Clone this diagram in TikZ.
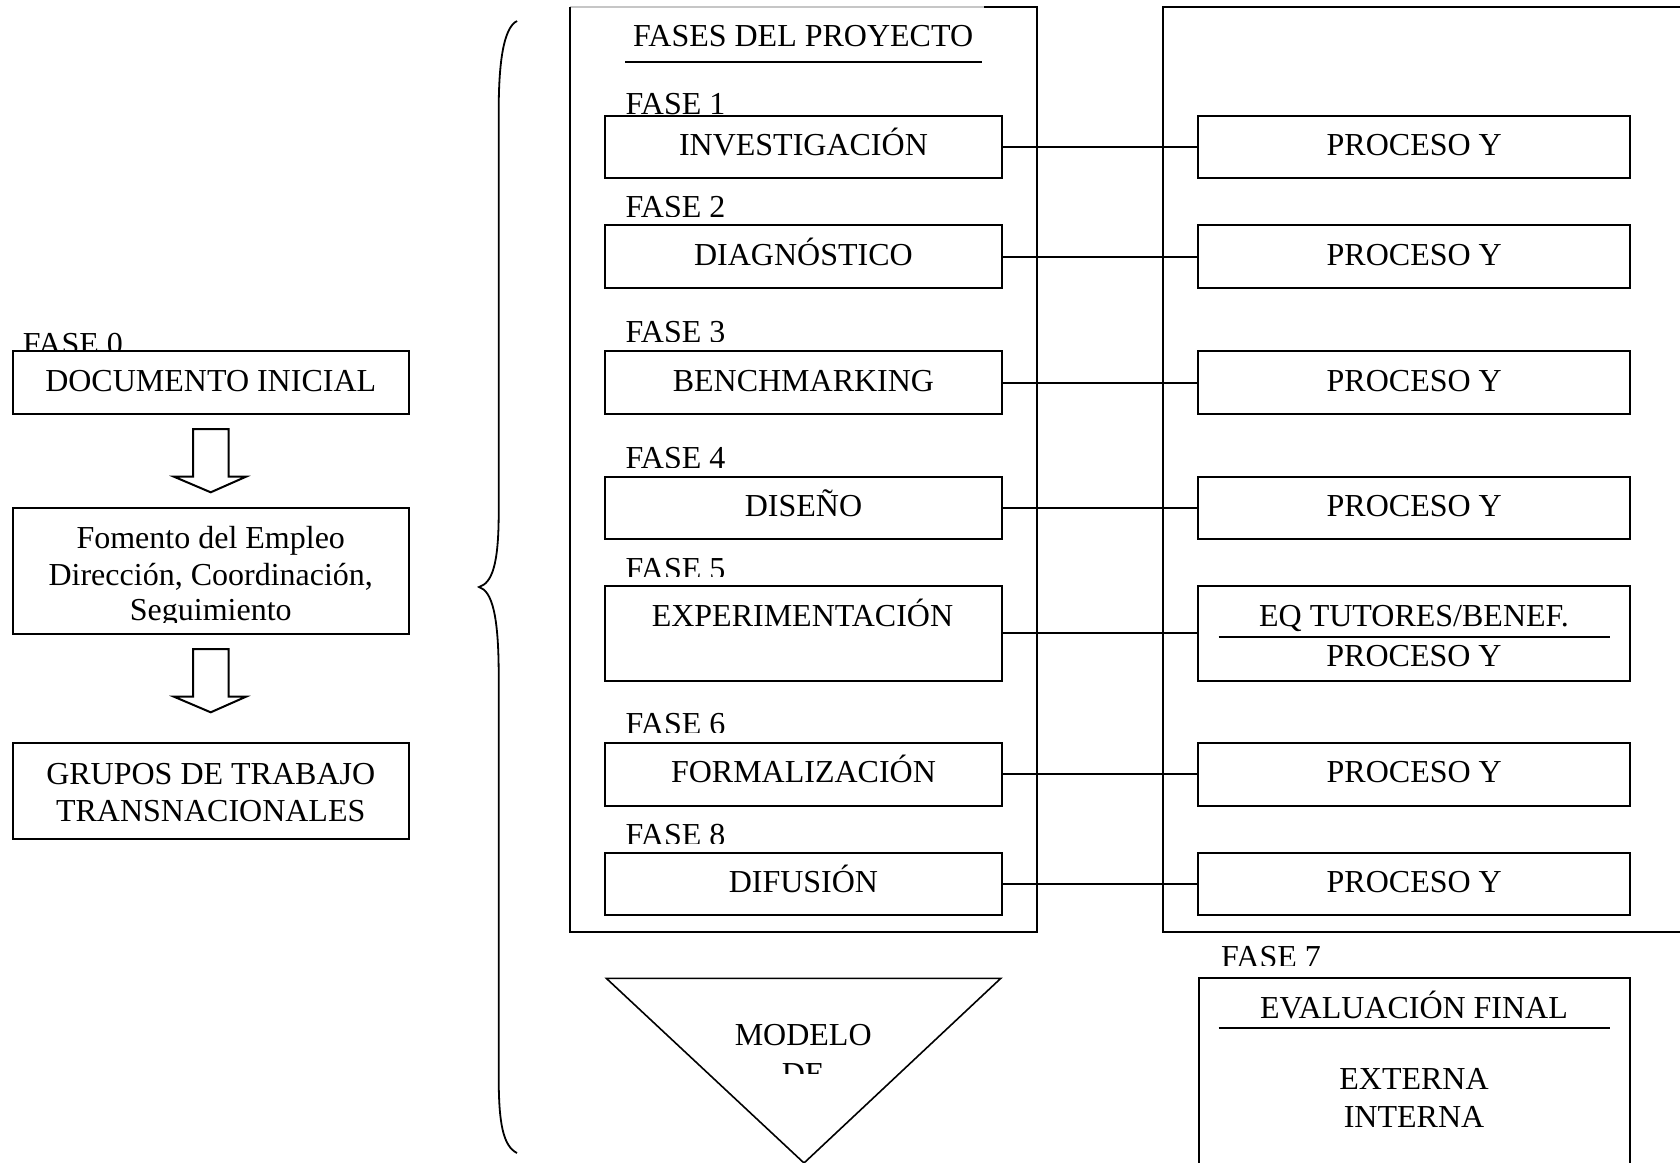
\documentclass[tikz,border=0pt]{standalone}
\usepackage{fontspec}
\setmainfont{Liberation Serif}
\usetikzlibrary{calc}
\newcommand\faselbl[5]{%
  \begin{scope}
    \clip (#2-10,#3-40) rectangle (#2+200,#4);
    \node[anchor=base west] (#1) at (#2,#3) {#5};
  \end{scope}}
\begin{document}
\begin{tikzpicture}[x=0.5pt,y=-0.5pt,
  every node/.style={font=\fontsize{16}{18.5}\selectfont, inner sep=0pt, outer sep=0pt},
  box/.style={draw, line width=1pt, fill=white, text height=10.6pt, text depth=2.1pt},
  lbox/.style={box, minimum width=198.25pt},
  pbox/.style={box, minimum width=198.05pt, minimum height=31.25pt},
  rbox/.style={box, minimum width=216.05pt, minimum height=31.25pt},
  frame/.style={draw, line width=1pt},
  link/.style={line width=1pt},
  rule/.style={line width=1pt},
  blockarrow/.style={draw, line width=1pt, fill=white, line join=miter},
  bracepath/.style={line width=0.9pt},
  tri/.style={line width=0.8pt},
]
\useasboundingbox (0,0) rectangle (1680,1162);

% ---------- left column ----------
\faselbl{f0}{23}{354.3}{351.5}{FASE 0}
\node[lbox, minimum height=31.5pt] (doc) at (210.75,382.5) {DOCUMENTO INICIAL};
\draw[blockarrow] (193,429) -- (228.6,429) -- (228.6,476.7) -- (246,476.7)
  -- (210.7,492.3) -- (174,476.7) -- (193,476.7) -- cycle;
\node[lbox, minimum height=63.15pt] (fom) at (210.75,570.85) {};
\begin{scope}
  \clip (14,509) rectangle (408,622.3);
  \node[anchor=base] (fom1) at (210.75,548) {Fomento del Empleo};
  \node[anchor=base] (fom2) at (210.75,585) {Dirección, Coordinación,};
  \node[anchor=base] (fom3) at (210.75,620.5) {Seguimiento};
\end{scope}
\draw[blockarrow] (193,649) -- (228.6,649) -- (228.6,696.7) -- (246,696.7)
  -- (210.7,712.3) -- (174,696.7) -- (193,696.7) -- cycle;
\node[lbox, minimum height=47.85pt] (grp) at (210.75,791.15) {};
\node[anchor=base] (grp1) at (210.75,784.3) {GRUPOS DE TRABAJO};
\node[anchor=base] (grp2) at (210.75,821) {TRANSNACIONALES};

% ---------- brace ----------
\draw[bracepath] (517,21) .. controls (503,28) and (498.7,65) .. (498.7,111)
  -- (498.7,512) .. controls (498.7,565) and (492,583) .. (479,587)
  .. controls (492,591) and (498.7,615) .. (498.7,676)
  -- (498.7,1077) .. controls (498.7,1123) and (503,1146) .. (517,1153);

% ---------- big frames ----------
\node[minimum width=233.6pt, minimum height=462.35pt] (mid) at (803.1,469.35) {};
\draw[line width=0.6pt, gray!45] (mid.north west) -- ($(mid.north west)+(414.5,0)$);
\draw[frame] ($(mid.north west)+(414.5,0)$) -- (mid.north east) -- (mid.south east)
  -- (mid.south west) -- (mid.north west);
\node[frame, minimum width=268.4pt, minimum height=462.35pt] (rbig) at (1431.6,469.35) {};

\node[anchor=base] (title) at (803.1,46.7) {FASES DEL PROYECTO};
\draw[rule] (625.3,61.7) -- (981.6,61.7);

% ---------- phase labels ----------
\faselbl{f1}{625.5}{114}{116}{FASE 1}
\faselbl{f2}{625.5}{217.7}{216}{FASE 2}
\faselbl{f3}{625.5}{342.7}{341.7}{FASE 3}
\faselbl{f4}{625.5}{468.7}{467.7}{FASE 4}
\faselbl{f5}{625.5}{579.3}{576.5}{FASE 5}
\faselbl{f6}{625.5}{734.3}{732.7}{FASE 6}
\faselbl{f8}{625.5}{845}{843.3}{FASE 8}

% ---------- phase boxes ----------
\node[pbox] (p1) at (803.45,147.15) {INVESTIGACIÓN};
\node[pbox] (p2) at (803.45,256.7) {DIAGNÓSTICO};
\node[pbox] (p3) at (803.45,382.5) {BENCHMARKING};
\node[pbox] (p4) at (803.45,507.85) {DISEÑO};
\node[pbox, minimum height=47.35pt] (p5) at (803.45,633.35) {};
\node[anchor=base] (p5t) at (802.5,626) {EXPERIMENTACIÓN};
\node[pbox] (p6) at (803.45,774.35) {FORMALIZACIÓN};
\node[pbox] (p8) at (803.45,884.2) {DIFUSIÓN};

\node[rbox] (r1) at (1414.25,147.15) {PROCESO Y};
\node[rbox] (r2) at (1414.25,256.7) {PROCESO Y};
\node[rbox] (r3) at (1414.25,382.5) {PROCESO Y};
\node[rbox] (r4) at (1414.25,507.85) {PROCESO Y};
\node[rbox, minimum height=47.35pt] (r5) at (1414.25,633.35) {};
\node[anchor=base] (r5a) at (1414,626) {EQ TUTORES/BENEF.};
\draw[rule] (1218.6,637.3) -- (1610,637.3);
\node[anchor=base] (r5b) at (1414,666) {PROCESO Y};
\node[rbox] (r6) at (1414.25,774.35) {PROCESO Y};
\node[rbox] (r8) at (1414.25,884.2) {PROCESO Y};

\foreach \i in {1,2,3,4,5,6,8} {\draw[link] (p\i.east) -- (r\i.west);}

% ---------- bottom ----------
\draw[tri] (606.3,978.3) -- (1000.8,978.3) -- (804,1163) -- cycle;
\node[anchor=base] (modelo) at (803.2,1045) {MODELO};
\begin{scope}
  \clip (700,1050) rectangle (900,1073.3);
  \node[anchor=base] (de) at (803.2,1084) {DE};
\end{scope}

\faselbl{f7}{1221}{967.7}{965.5}{FASE 7}
\node[frame, minimum width=215.15pt, minimum height=110.85pt] (eval) at (1414.45,1089.15) {};
\node[anchor=base] (evt) at (1414,1018.3) {EVALUACIÓN FINAL};
\draw[rule] (1218.7,1028.3) -- (1610,1028.3);
\node[anchor=base] (ext) at (1414,1089.3) {EXTERNA};
\node[anchor=base] (int) at (1414,1127.7) {INTERNA};
\end{tikzpicture}
\end{document}
